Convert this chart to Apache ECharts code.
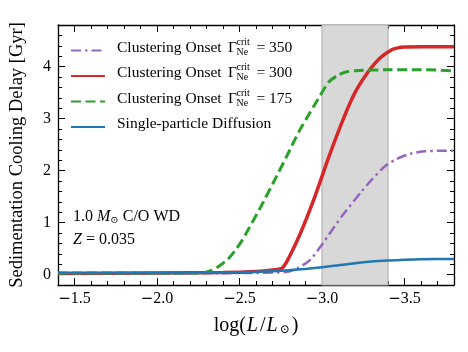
<!DOCTYPE html>
<html>
<head>
<meta charset="utf-8">
<script src="https://cdn.jsdelivr.net/npm/echarts@6/dist/echarts.min.js"></script>
<style>
  html, body { margin: 0; padding: 0; background: #fff; }
  #chart { width: 468px; height: 352px; }
</style>
</head>
<body>
<div id="chart"></div>
<script>
// curves, x = log(L/Lsun), y = delay in Gyr
var x350 = [-1.4, -2.5, -2.78, -2.85, -2.93, -3.01, -3.04, -3.12, -3.24, -3.3, -3.38, -3.45, -3.54, -3.62, -3.7, -3.8];
var y350 = [0.02, 0.03, 0.05, 0.12, 0.29, 0.62, 0.76, 1.12, 1.6, 1.82, 2.08, 2.22, 2.33, 2.37, 2.38, 2.38];

var x300 = [-1.4, -2.0, -2.4, -2.6, -2.7, -2.76, -2.8, -2.87, -2.95, -3.04, -3.13, -3.2, -3.28, -3.35, -3.42, -3.46, -3.5, -3.6, -3.8];
var y300 = [0.02, 0.03, 0.04, 0.06, 0.09, 0.13, 0.33, 0.8, 1.44, 2.25, 3.0, 3.5, 3.9, 4.16, 4.32, 4.36, 4.375, 4.38, 4.38];

var x175 = [-1.4, -2.0, -2.2, -2.28, -2.33, -2.38, -2.43, -2.47, -2.51, -2.55, -2.63, -2.71, -2.79, -2.86, -2.93, -2.99, -3.04, -3.1, -3.15, -3.2, -3.4, -3.6, -3.8];
var y175 = [0.03, 0.03, 0.03, 0.035, 0.08, 0.17, 0.3, 0.45, 0.63, 0.85, 1.31, 1.8, 2.3, 2.75, 3.13, 3.45, 3.7, 3.84, 3.9, 3.92, 3.94, 3.94, 3.92];

var xDiff = [-1.4, -2.0, -2.3, -2.5, -2.6, -2.75, -2.9, -3.0, -3.1, -3.2, -3.3, -3.4, -3.5, -3.6, -3.8];
var yDiff = [0.03, 0.03, 0.035, 0.045, 0.055, 0.075, 0.11, 0.14, 0.18, 0.22, 0.25, 0.27, 0.285, 0.295, 0.3];

var shadeBand = [-3.0, -3.4];
var gammaCrit = ['350', '300', '175'];

var FONT = '"Liberation Serif", "Times New Roman", "DejaVu Serif", serif';

function pairs(xs, ys) {
    var out = [];
    for (var i = 0; i < xs.length; i++) out.push([xs[i], ys[i]]);
    return out;
}

function xTickFmt(v) {
    return (v < 0 ? '{m|\u2212}' : '') + Math.abs(v).toFixed(1);
}

function textWidth(str, size) {
    var c = document.createElement('canvas').getContext('2d');
    c.font = size + 'px ' + FONT;
    return c.measureText(str).width;
}

var myChart = echarts.init(document.getElementById('chart'));

var legendLeft = 65, legendTop = 34.5, rowStep = 25.5, iconW = 34, padL = 7, legendFs = 15.5, gGap = 2.5;
var gammaEnd = legendLeft + 5 + iconW + 5 + padL + textWidth('Clustering Onset ', legendFs) + gGap + textWidth('\u0393', legendFs);
var extra = [];
for (var i = 0; i < gammaCrit.length; i++) {
    var cy = legendTop + 5 + 11 + i * rowStep;
    extra.push({
        type: 'text', x: gammaEnd + 0.5, y: cy - 8.5, z: 100,
        style: { text: 'crit', font: '10px ' + FONT, fill: '#000', verticalAlign: 'middle' }
    });
    extra.push({
        type: 'text', x: gammaEnd + 0.5, y: cy + 1.5, z: 100,
        style: { text: 'Ne', font: '10px ' + FONT, fill: '#000', verticalAlign: 'middle' }
    });
}
extra.push({
    type: 'text', x: 73, y: 217, z: 100,
    style: {
        text: '1.0 {it|M}{sub|\u2299} C/O WD',
        font: '16px ' + FONT, fill: '#000', verticalAlign: 'middle',
        rich: {
            it: { fontStyle: 'italic', fontSize: 16, fontFamily: FONT },
            sub: { fontSize: 10, fontFamily: FONT, padding: [6, 0, 0, 0] }
        }
    }
});
extra.push({
    type: 'text', x: 73, y: 239.5, z: 100,
    style: {
        text: '{it|Z} = 0.035',
        font: '16px ' + FONT, fill: '#000', verticalAlign: 'middle',
        rich: { it: { fontStyle: 'italic', fontSize: 16, fontFamily: FONT } }
    }
});

function legendName(i) {
    return 'Clustering Onset {g|}\u0393{sp|}{eq|= ' + gammaCrit[i] + '}';
}

function axisX(pos, minor) {
    return {
        type: 'value', position: pos, min: -3.8, max: -1.4, inverse: true,
        interval: minor ? 0.1 : undefined,
        minInterval: minor ? undefined : 0.5,
        maxInterval: minor ? undefined : 0.5,
        splitNumber: 5,
        axisLine: { show: !minor, onZero: false, lineStyle: { color: '#000', width: 1.3 } },
        axisTick: { show: true, inside: true, length: minor ? 4 : 7, lineStyle: { color: '#000', width: 1 } },
        axisLabel: {
            show: pos === 'bottom' && !minor, showMinLabel: false, showMaxLabel: false,
            formatter: xTickFmt, color: '#000', fontSize: 16, fontFamily: FONT, margin: 6,
            rich: { m: { fontFamily: 'DejaVu Sans', fontSize: 15, color: '#000' } }
        },
        splitLine: { show: false }
    };
}

function axisY(pos, minor) {
    return {
        type: 'value', position: pos, min: -0.2, max: 4.8,
        interval: minor ? 0.2 : undefined,
        minInterval: minor ? undefined : 1,
        maxInterval: minor ? undefined : 1,
        splitNumber: 5,
        axisLine: { show: !minor, onZero: false, lineStyle: { color: '#000', width: 1.3 } },
        axisTick: { show: true, inside: true, length: minor ? 4 : 7, lineStyle: { color: '#000', width: 1 } },
        axisLabel: {
            show: pos === 'left' && !minor, showMinLabel: false, showMaxLabel: false,
            color: '#000', fontSize: 16, fontFamily: FONT, margin: 7
        },
        splitLine: { show: false }
    };
}

var xs = [axisX('bottom', false), axisX('bottom', true), axisX('top', false), axisX('top', true)];
xs[0].name = 'log({it|L}/{it|L}{sub|\u2299})';
xs[0].nameLocation = 'middle';
xs[0].nameGap = 31;
xs[0].nameTextStyle = {
    color: '#000', fontSize: 20, fontFamily: FONT,
    rich: {
        it: { fontStyle: 'italic', fontSize: 20, fontFamily: FONT, padding: [0, 2, 0, 1] },
        sub: { fontSize: 12, fontFamily: FONT, padding: [8, 2, 0, 0] }
    }
};
var ys = [axisY('left', false), axisY('left', true), axisY('right', false), axisY('right', true)];
ys[0].name = 'Sedimentation Cooling Delay [Gyr]';
ys[0].nameLocation = 'middle';
ys[0].nameGap = 31;
ys[0].nameTextStyle = { color: '#000', fontSize: 18.5, fontFamily: FONT };

var names = [legendName(0), legendName(1), legendName(2), 'Single-particle Diffusion'];

var option = {
    animation: false,
    backgroundColor: '#fff',
    grid: { left: 57, right: 14, top: 25, bottom: 67 },
    xAxis: xs,
    yAxis: ys,
    legend: {
        orient: 'vertical', left: legendLeft, top: legendTop,
        itemWidth: iconW, itemHeight: 14, itemGap: 3.5,
        data: names,
        itemStyle: { opacity: 0, borderWidth: 0 },
        textStyle: {
            color: '#000', fontSize: legendFs, fontFamily: FONT, lineHeight: 16,
            padding: [0, 0, 6, 0],
            rich: {
                pad: { width: padL },
                g: { width: gGap },
                sp: { width: 19.5, lineHeight: 16 },
                eq: { fontSize: legendFs, fontFamily: FONT, lineHeight: 16 }
            }
        },
        formatter: function(n) { return '{pad|}' + n; }
    },
    graphic: extra,
    series: [{
        type: 'line', name: 'band', data: [], z: 1, silent: true,
        markArea: {
            silent: true,
            itemStyle: { color: '#d8d8d8', borderColor: '#b4b4b4', borderWidth: 1.2 },
            data: [[{ xAxis: shadeBand[0] }, { xAxis: shadeBand[1] }]]
        }
    }, {
        type: 'line', name: names[0], data: pairs(x350, y350), symbol: 'none', z: 3,
        smooth: 0.25,
        itemStyle: { color: '#9467bd' },
        lineStyle: { color: '#9467bd', width: 2.5, type: [10, 4, 2.5, 4] }
    }, {
        type: 'line', name: names[1], data: pairs(x300, y300), symbol: 'none', z: 4,
        smooth: 0.25,
        itemStyle: { color: '#d62728' },
        lineStyle: { color: '#d62728', width: 3.5 }
    }, {
        type: 'line', name: names[2], data: pairs(x175, y175), symbol: 'none', z: 5,
        smooth: 0.25,
        itemStyle: { color: '#2ca02c' },
        lineStyle: { color: '#2ca02c', width: 3, type: [10, 4.5] }
    }, {
        type: 'line', name: names[3], data: pairs(xDiff, yDiff), symbol: 'none', z: 6,
        smooth: 0.25,
        itemStyle: { color: '#1f77b4' },
        lineStyle: { color: '#1f77b4', width: 2.5 }
    }]
};
myChart.setOption(option);
</script>
</body>
</html>
